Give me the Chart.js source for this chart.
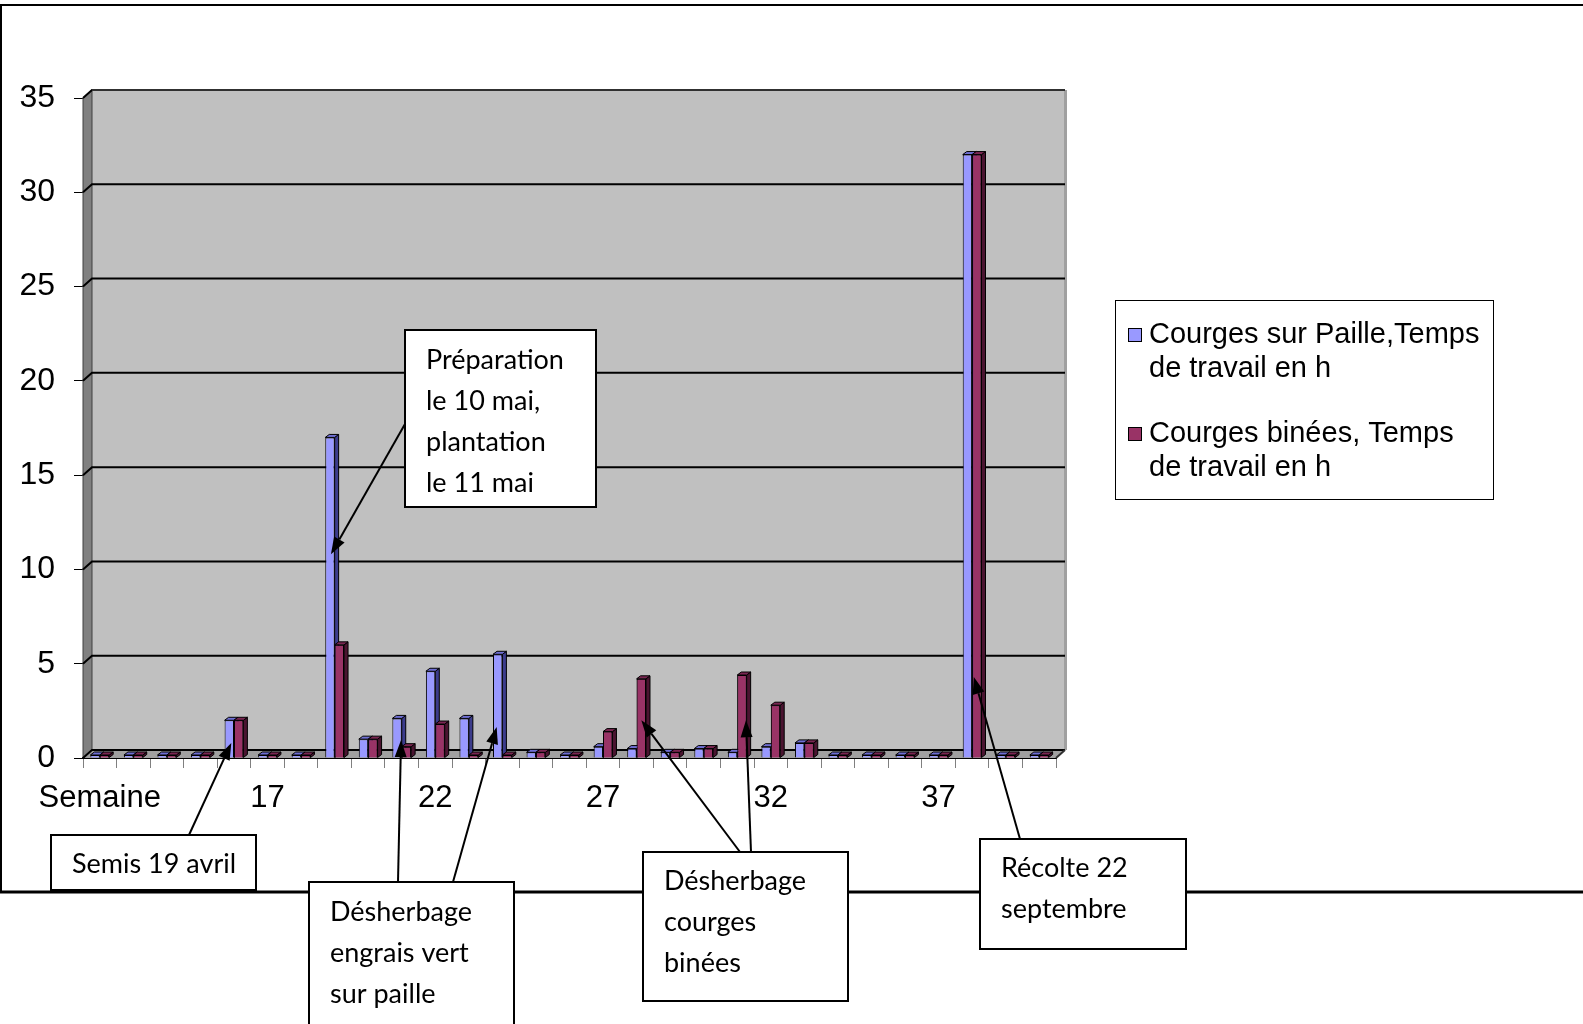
<!DOCTYPE html>
<html>
<head>
<meta charset="utf-8">
<title>Courges - temps de travail</title>
<script src="https://cdn.jsdelivr.net/npm/chart.js@4.4.1/dist/chart.umd.min.js"></script>
<style>
    html, body { margin: 0; padding: 0; background: #fff; }
    canvas { display: block; }
</style>
</head>
<body>
<canvas id="myBarChart" width="1583" height="1024"></canvas>
<script>
// weeks (first category is the axis title "Semaine")
const weeks = ['Semaine', '13', '14', '15', '16', '17', '18', '19', '20', '21', '22', '23', '24', '25',
    '26', '27', '28', '29', '30', '31', '32', '33', '34', '35', '36', '37', '38', '39', '40'];

// hours of work per week
const paille = [0, 0, 0, 0, 2, 0, 0, 17, 1, 2.1, 4.6, 2.1, 5.5, 0.3, 0, 0.6, 0.5, 0.3, 0.5, 0.3,
    0.6, 0.8, 0, 0, 0, 0, 32, 0, 0];
const binees = [0, 0, 0, 0, 2, 0, 0, 6, 1, 0.6, 1.8, 0, 0, 0.3, 0, 1.4, 4.2, 0.3, 0.5, 4.4,
    2.8, 0.8, 0, 0, 0, 0, 32, 0, 0];

const seriesLabels = [
    ['Courges sur Paille,Temps', 'de travail en h'],
    ['Courges binées, Temps', 'de travail en h']
];
const seriesColors = ['#9999FF', '#993366'];
const sideColors = ['#3C3C8C', '#4A1430'];
const topColors = ['#6E6ED2', '#7A2652'];

// text boxes with their arrows (arrow points at a bar: dataset, week index, value)
const notes = [
    { lines: ['Semis 19 avril'], box: [51, 835, 205, 55], textX: 72, firstLine: 864,
      arrows: [{ from: [189, 835], set: 0, week: 4, at: 0.8, dx: 2 }] },
    { lines: ['Préparation', 'le 10 mai,', 'plantation', 'le 11 mai'], box: [405, 330, 191, 177], textX: 426, firstLine: 360,
      arrows: [{ from: [405, 424], set: 0, week: 7, at: 10.8, dx: 1 }] },
    { lines: ['Désherbage', 'engrais vert', 'sur paille'], box: [309, 882, 205, 170], textX: 330, firstLine: 912,
      arrows: [{ from: [398, 882], set: 0, week: 9, at: 0.95, dx: 4 },
               { from: [453, 882], set: 0, week: 12, at: 1.65, dx: -1 }] },
    { lines: ['Désherbage', 'courges', 'binées'], box: [643, 852, 205, 149], textX: 664, firstLine: 881,
      arrows: [{ from: [740, 852], set: 1, week: 16, at: 2.0, dx: 0 },
               { from: [751, 852], set: 1, week: 19, at: 2.0, dx: 4 }] },
    { lines: ['Récolte 22', 'septembre'], box: [980, 839, 206, 110], textX: 1001, firstLine: 868,
      arrows: [{ from: [1020, 839], set: 1, week: 26, at: 4.3, dx: -3 }] }
];

const DX = 9, DY = 8;      // depth of the back wall
const BX = 4, BY = 3;      // depth of each bar

function drawFaces(ctx, meta, i) {
    ctx.strokeStyle = '#000';
    ctx.lineWidth = 1;
    meta.data.forEach(bar => {
        const p = bar.getProps(['x', 'y', 'base', 'width'], true);
        const l = p.x - p.width / 2, r = p.x + p.width / 2;
        const top = Math.min(p.y, p.base), bot = Math.max(p.y, p.base);
        ctx.fillStyle = sideColors[i];
        ctx.beginPath();
        ctx.moveTo(r, top); ctx.lineTo(r + BX, top - BY);
        ctx.lineTo(r + BX, bot - BY); ctx.lineTo(r, bot);
        ctx.closePath();
        ctx.fill(); ctx.stroke();
        ctx.fillStyle = topColors[i];
        ctx.beginPath();
        ctx.moveTo(l, top); ctx.lineTo(l + BX, top - BY);
        ctx.lineTo(r + BX, top - BY); ctx.lineTo(r, top);
        ctx.closePath();
        ctx.fill(); ctx.stroke();
    });
}

const framePlugin = {
    id: 'frame',
    beforeDraw(chart) {
        const ctx = chart.ctx;
        ctx.save();
        ctx.strokeStyle = '#000';
        ctx.lineWidth = 2;
        ctx.beginPath();
        ctx.moveTo(0, 5); ctx.lineTo(1583, 5);
        ctx.moveTo(1, 5); ctx.lineTo(1, 892);
        ctx.stroke();
        ctx.lineWidth = 3;
        ctx.beginPath();
        ctx.moveTo(0, 892); ctx.lineTo(1583, 892);
        ctx.stroke();
        ctx.restore();
    },
    beforeDatasetsDraw(chart) {
        const ctx = chart.ctx;
        const a = chart.chartArea;
        const y = chart.scales.y;
        ctx.save();
        // back wall
        ctx.fillStyle = '#C0C0C0';
        ctx.fillRect(a.left + DX, a.top - DY, a.right - a.left, a.bottom - a.top);
        ctx.fillStyle = '#A0A0A0';
        ctx.fillRect(a.right + DX - 1, a.top - DY, 3, a.bottom - a.top);
        // left wall
        ctx.fillStyle = '#808080';
        ctx.beginPath();
        ctx.moveTo(a.left, a.top); ctx.lineTo(a.left + DX, a.top - DY);
        ctx.lineTo(a.left + DX, a.bottom - DY); ctx.lineTo(a.left, a.bottom);
        ctx.closePath();
        ctx.fill();
        ctx.strokeStyle = '#404040';
        ctx.lineWidth = 1;
        ctx.stroke();
        // floor
        ctx.fillStyle = '#A0A0A0';
        ctx.beginPath();
        ctx.moveTo(a.left, a.bottom); ctx.lineTo(a.left + DX, a.bottom - DY);
        ctx.lineTo(a.right + DX, a.bottom - DY); ctx.lineTo(a.right, a.bottom);
        ctx.closePath();
        ctx.fill();
        // grid lines on the back wall
        ctx.strokeStyle = '#000';
        ctx.lineWidth = 2;
        y.ticks.forEach(t => {
            const py = y.getPixelForValue(t.value);
            ctx.beginPath();
            ctx.moveTo(a.left, py);
            ctx.lineTo(a.left + DX, py - DY);
            ctx.lineTo(a.right + DX, py - DY);
            ctx.stroke();
        });
        ctx.strokeStyle = '#303030';
        ctx.beginPath();
        ctx.moveTo(a.left + DX, a.top - DY); ctx.lineTo(a.right + DX, a.top - DY);
        ctx.stroke();
        ctx.beginPath();
        ctx.moveTo(a.right, a.bottom); ctx.lineTo(a.right + DX, a.bottom - DY);
        ctx.stroke();
        ctx.restore();
    },
    afterDatasetsDraw(chart) {
        const ctx = chart.ctx;
        ctx.save();
        // blue faces first, then repaint the red fronts over them and add red faces
        drawFaces(ctx, chart.getDatasetMeta(0), 0);
        const red = chart.getDatasetMeta(1);
        red.data.forEach(el => el.draw(ctx));
        drawFaces(ctx, red, 1);
        ctx.restore();
    },
    afterDraw(chart) {
        const ctx = chart.ctx;
        const y = chart.scales.y;
        ctx.save();

        // legend
        ctx.fillStyle = '#fff';
        ctx.fillRect(1115, 300, 378, 199);
        ctx.strokeStyle = '#000';
        ctx.lineWidth = 1;
        ctx.strokeRect(1115.5, 300.5, 378, 199);
        ctx.font = '29px "Liberation Sans", Arial, sans-serif';
        ctx.textBaseline = 'middle';
        ctx.textAlign = 'left';
        seriesLabels.forEach((lines, k) => {
            const cy = 335 + k * 99;
            ctx.fillStyle = seriesColors[k];
            ctx.fillRect(1128, cy - 7, 14, 14);
            ctx.strokeStyle = '#000';
            ctx.strokeRect(1128.5, cy - 6.5, 13, 13);
            ctx.fillStyle = '#000';
            lines.forEach((s, j) => ctx.fillText(s, 1149, cy + j * 34));
        });

        // arrows
        ctx.strokeStyle = '#000';
        ctx.fillStyle = '#000';
        ctx.lineWidth = 2;
        notes.forEach(n => n.arrows.forEach(ar => {
            const bar = chart.getDatasetMeta(ar.set).data[ar.week];
            const tx = bar.x + ar.dx;
            const ty = y.getPixelForValue(ar.at);
            const [fx, fy] = ar.from;
            const ang = Math.atan2(ty - fy, tx - fx);
            const hl = 17, hw = 6;
            const bx = tx - hl * Math.cos(ang), by = ty - hl * Math.sin(ang);
            ctx.beginPath();
            ctx.moveTo(fx, fy); ctx.lineTo(bx, by);
            ctx.stroke();
            ctx.beginPath();
            ctx.moveTo(tx, ty);
            ctx.lineTo(bx + hw * Math.sin(ang), by - hw * Math.cos(ang));
            ctx.lineTo(bx - hw * Math.sin(ang), by + hw * Math.cos(ang));
            ctx.closePath();
            ctx.fill();
        }));

        // text boxes
        ctx.font = '27px Lato, "Noto Sans", sans-serif';
        ctx.textBaseline = 'middle';
        notes.forEach(n => {
            const [bx, by, bw, bh] = n.box;
            ctx.fillStyle = '#fff';
            ctx.fillRect(bx, by, bw, bh);
            ctx.strokeStyle = '#000';
            ctx.lineWidth = 2;
            ctx.strokeRect(bx, by, bw, bh);
            ctx.fillStyle = '#000';
            n.lines.forEach((s, j) => ctx.fillText(s, n.textX, n.firstLine + j * 41));
        });
        ctx.restore();
    }
};

const barCtx = document.getElementById('myBarChart').getContext('2d');

new Chart(barCtx, {
    type: 'bar',
    data: {
        labels: weeks,
        datasets: [{
            label: seriesLabels[0].join(' '),
            data: paille,
            backgroundColor: seriesColors[0],
            borderColor: '#000',
            borderWidth: 1,
            minBarLength: 3
        }, {
            label: seriesLabels[1].join(' '),
            data: binees,
            backgroundColor: seriesColors[1],
            borderColor: '#000',
            borderWidth: 1,
            minBarLength: 3
        }]
    },
    options: {
        responsive: false,
        animation: false,
        devicePixelRatio: 1,
        layout: { padding: { left: 0, top: 98, right: 527, bottom: 206 } },
        datasets: { bar: { categoryPercentage: 0.56, barPercentage: 1 } },
        plugins: {
            legend: { display: false },
            tooltip: { enabled: false }
        },
        scales: {
            x: {
                afterFit: s => { s.height = 60; },
                grid: { drawOnChartArea: false, color: '#808080', tickLength: 10, offset: true },
                border: { color: '#000', width: 2 },
                ticks: {
                    autoSkip: false,
                    maxRotation: 0,
                    minRotation: 0,
                    padding: 12,
                    color: '#000',
                    font: { family: '"Liberation Sans", Arial, sans-serif', size: 31 },
                    callback: (v, i) => (i % 5 === 0 ? weeks[i] : '')
                }
            },
            y: {
                min: 0,
                max: 35,
                afterFit: s => { s.width = 83; },
                grid: { drawOnChartArea: false, color: '#000', tickLength: 9 },
                border: { display: false },
                ticks: {
                    stepSize: 5,
                    padding: 19,
                    color: '#000',
                    font: { family: '"Liberation Sans", Arial, sans-serif', size: 32 }
                }
            }
        }
    },
    plugins: [framePlugin]
});
</script>
</body>
</html>
